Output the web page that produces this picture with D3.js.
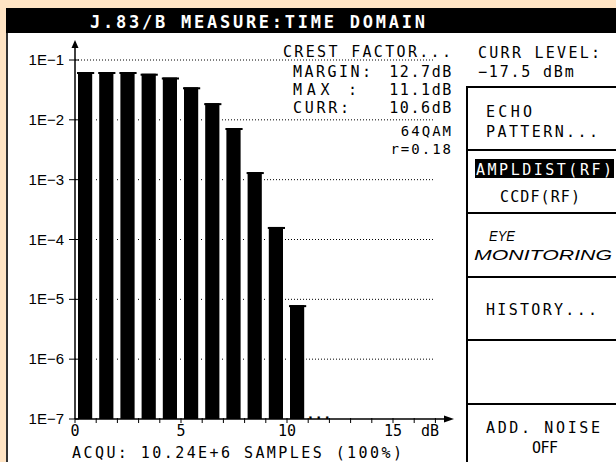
<!DOCTYPE html>
<html><head><meta charset="utf-8">
<script src="https://cdn.jsdelivr.net/npm/d3@7"></script>
<style>body{margin:0;background:#FFE4C4;} svg{display:block}</style>
</head><body><svg id="c" width="616" height="462"></svg>
<script>
// ---- data ----
const binsDb = [0,1,2,3,4,5,6,7,8,9,10];
const probability = [0.063,0.063,0.063,0.059,0.051,0.035,0.019,0.0073,0.00134,0.000162,0.0000080];
const yTickValues = [1e-1,1e-2,1e-3,1e-4,1e-5,1e-6,1e-7];
const yTickLabels = ["1E\u22121","1E\u22122","1E\u22123","1E\u22124","1E\u22125","1E\u22126","1E\u22127"];
const xTickValues = [0,5,10,15];
const xMinorTicks = d3.range(0,18);
const xUnit = "dB";
const title = "J.83/B MEASURE:TIME DOMAIN";
const crestTitle = "CREST FACTOR...";
const crestNames = ["MARGIN:","MAX  :","CURR:"];
const crestValues = ["12.7dB","11.1dB","10.6dB"];
const modulation = ["64QAM","r=0.18"];
const currLevel = ["CURR LEVEL:","\u221217.5 dBm"];
const acquLine = "ACQU: 10.24E+6 SAMPLES (100%)";

const svg = d3.select("#c");
const MONO = "'DejaVu Sans Mono', 'Liberation Mono', monospace";
const SANS = "'Liberation Sans', Arial, sans-serif";

svg.append("rect").attr("width",616).attr("height",462).attr("fill","#FFE4C4");
// screen
svg.append("rect").attr("x",6).attr("y",8).attr("width",610).attr("height",454).attr("fill","#fff");
svg.append("rect").attr("x",6).attr("y",8).attr("width",2).attr("height",454).attr("fill","#333");
svg.append("rect").attr("x",6).attr("y",8).attr("width",610).attr("height",25).attr("fill","#000");
svg.append("text").attr("x",90).attr("y",28).attr("fill","#fff")
  .attr("font-family",MONO).attr("font-weight","bold").attr("font-size",17)
  .attr("textLength",335).attr("lengthAdjust","spacing").text(title);

// scales
const x = d3.scaleLinear().domain([0,17.5]).range([75,446]);
const y = d3.scaleLog().domain([1e-7,1e-1]).range([419,60]);

// gridlines
svg.append("g").selectAll("line").data(yTickValues.slice(0,6)).join("line")
  .attr("x1",75).attr("x2",433).attr("y1",d=>y(d)).attr("y2",d=>y(d))
  .attr("stroke","#000").attr("stroke-width",1).attr("stroke-dasharray","1,2");

// bars
const bars = svg.append("g");
binsDb.forEach((b,i)=>{
  const x0 = x(b)+3, x1 = x(b+1)-4, yt = y(probability[i]);
  bars.append("rect").attr("x",x0-2).attr("y",yt-2).attr("width",x1-x0+4).attr("height",y(1e-7)-yt+2).attr("fill","#fff");
  bars.append("rect").attr("x",x0).attr("y",yt).attr("width",x1-x0).attr("height",y(1e-7)-yt).attr("fill","#000");
  bars.append("rect").attr("x",x0-1).attr("y",yt).attr("width",x1-x0+3).attr("height",2).attr("fill","#000");
});
svg.append("text").attr("x",x(11.5)).attr("y",y(1e-7)).attr("text-anchor","middle")
  .attr("font-family",MONO).attr("font-weight","bold").attr("font-size",14).text("...");

// y axis
svg.append("line").attr("x1",75).attr("x2",75).attr("y1",y(1e-7)).attr("y2",42).attr("stroke","#000").attr("stroke-width",1.5);
svg.append("path").attr("d","M75,40 L71.5,48 L78.5,48 Z").attr("fill","#000");
svg.append("g").selectAll("line").data(yTickValues).join("line")
  .attr("x1",69).attr("x2",79).attr("y1",d=>y(d)).attr("y2",d=>y(d)).attr("stroke","#000");
svg.append("g").selectAll("text").data(yTickValues).join("text")
  .attr("x",64).attr("y",d=>y(d)+5).attr("text-anchor","end")
  .attr("font-family",SANS).attr("font-size",15).text((d,i)=>yTickLabels[i]);

// x axis
svg.append("line").attr("x1",75).attr("x2",447).attr("y1",y(1e-7)).attr("y2",y(1e-7)).attr("stroke","#000").attr("stroke-width",1.5);
svg.append("path").attr("d",`M454,${y(1e-7)} L444,${y(1e-7)-3.5} L444,${y(1e-7)+3.5} Z`).attr("fill","#000");
svg.append("g").selectAll("line").data(xMinorTicks).join("line")
  .attr("x1",d=>x(d)).attr("x2",d=>x(d)).attr("y1",y(1e-7)-1).attr("y2",y(1e-7)+4).attr("stroke","#000");
svg.append("g").selectAll("text").data(xTickValues).join("text")
  .attr("x",d=>x(d)).attr("y",436).attr("text-anchor","middle")
  .attr("font-family",MONO).attr("font-size",15).text(d=>d);
svg.append("text").attr("x",430).attr("y",436).attr("text-anchor","middle")
  .attr("font-family",MONO).attr("font-size",15).text(xUnit);
svg.append("text").attr("x",72).attr("y",458)
  .attr("font-family",MONO).attr("font-size",15).attr("textLength",330).attr("lengthAdjust","spacing").text(acquLine);

// crest factor block
svg.append("text").attr("x",283).attr("y",57).attr("font-family",MONO).attr("font-size",15)
  .attr("textLength",168).attr("lengthAdjust","spacing").text(crestTitle);
crestNames.forEach((n,i)=>{
  const yy = [77,95,113][i];
  svg.append("text").attr("x",293).attr("y",yy).attr("font-family",MONO).attr("font-size",15)
    .attr("textLength",[78,64,56][i]).attr("lengthAdjust","spacing").text(n);
  svg.append("text").attr("x",453).attr("y",yy).attr("text-anchor","end").attr("font-family",MONO).attr("font-size",15)
    .attr("letter-spacing",1.6).text(crestValues[i]);
});
modulation.forEach((m,i)=>{
  svg.append("text").attr("x",453).attr("y",[136,154][i]).attr("text-anchor","end").attr("font-family",MONO).attr("font-size",14)
    .attr("letter-spacing",2).text(m);
});

// right panel
svg.append("text").attr("x",478).attr("y",58).attr("font-family",MONO).attr("font-size",15)
  .attr("textLength",122).attr("lengthAdjust","spacing").text(currLevel[0]);
svg.append("text").attr("x",478).attr("y",77).attr("font-family",MONO).attr("font-size",15)
  .attr("letter-spacing",1.8).text(currLevel[1]);
svg.append("line").attr("x1",467).attr("x2",467).attr("y1",86).attr("y2",462).attr("stroke","#000").attr("stroke-width",2);
svg.append("g").selectAll("line").data([87,150,213,277,340,404]).join("line")
  .attr("x1",467).attr("x2",616).attr("y1",d=>d).attr("y2",d=>d).attr("stroke","#000").attr("stroke-width",2);

function mt(str,xx,yy,len,opts={}){
  const t = svg.append("text").attr("x",xx).attr("y",yy).attr("font-family",MONO).attr("font-size",15)
    .attr("fill",opts.fill||"#000").text(str);
  if(len) t.attr("textLength",len).attr("lengthAdjust","spacing");
  return t;
}
mt("ECHO",486,117,46);
mt("PATTERN...",486,137,112);
svg.append("rect").attr("x",475).attr("y",159).attr("width",139).attr("height",19).attr("fill","#000");
mt("AMPLDIST(RF)",476,175,136,{fill:"#fff"});
mt("CCDF(RF)",500,202,80);
svg.append("text").attr("x",489).attr("y",241).attr("font-family",SANS).attr("font-style","italic")
  .attr("font-size",14).attr("textLength",26).attr("lengthAdjust","spacingAndGlyphs").text("EYE");
svg.append("text").attr("x",474).attr("y",260).attr("font-family",SANS).attr("font-style","italic")
  .attr("font-size",14).attr("textLength",138).attr("lengthAdjust","spacingAndGlyphs").text("MONITORING");
mt("HISTORY...",486,315,111);
mt("ADD. NOISE",486,433,114);
mt("OFF",532,453,26);
</script></body></html>
